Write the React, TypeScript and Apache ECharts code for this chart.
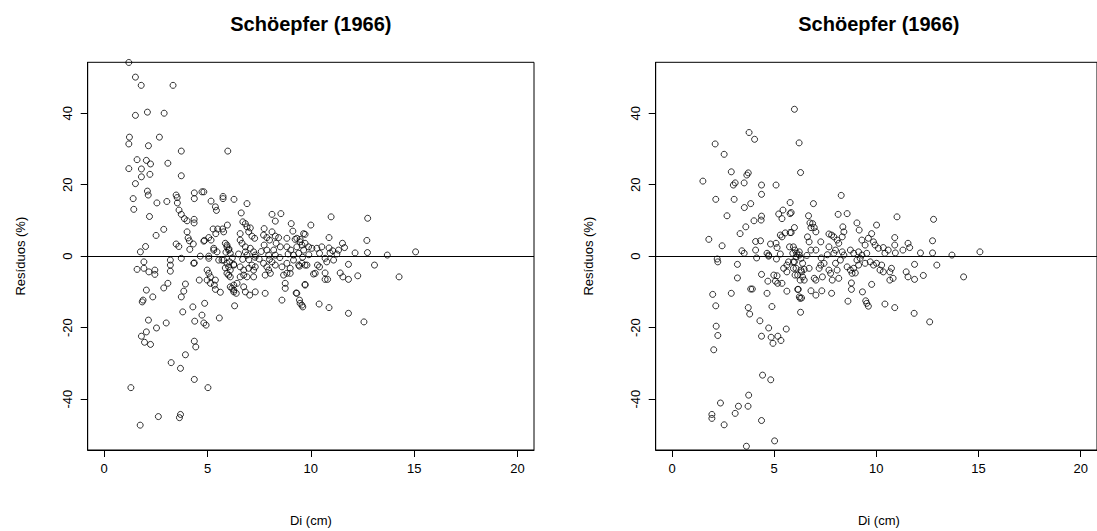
import React, { useEffect, useRef } from "react";
import * as echarts from "echarts";

// Diameter (cm) and residual (%) pairs, first panel
const residuosA: [number, number][] = [
  [1.19, 54.2], [1.51, 50.1], [1.79, 47.8], [3.33, 47.8], [1.51, 39.4], [2.09, 40.3], [2.9, 40.0], [1.22, 33.3],
  [1.19, 31.4], [2.67, 33.3], [2.14, 30.9], [3.73, 29.4], [5.98, 29.4], [1.59, 27.0], [2.04, 26.8], [2.24, 25.8],
  [3.08, 26.0], [1.19, 24.5], [1.8, 24.4], [2.21, 22.9], [1.8, 22.2], [3.73, 22.5], [1.51, 20.3], [2.09, 18.2],
  [2.13, 17.1], [1.4, 16.1], [2.55, 14.9], [3.03, 15.3], [3.48, 17.1], [3.53, 16.4], [3.54, 14.9], [4.36, 17.7],
  [4.36, 16.1], [4.73, 18.0], [4.82, 18.0], [5.17, 15.4], [5.38, 13.8], [5.43, 12.8], [5.75, 16.7], [5.75, 16.1],
  [6.28, 15.9], [1.43, 13.1], [2.19, 11.1], [3.62, 12.9], [3.73, 11.7], [3.88, 10.5], [4.01, 9.9], [4.35, 10.3],
  [4.35, 9.3], [5.27, 7.6], [5.49, 7.6], [5.73, 7.6], [5.96, 8.7], [5.78, 6.8], [5.4, 6.3], [2.51, 5.8],
  [2.88, 7.5], [4.01, 6.8], [4.06, 5.1], [4.12, 4.3], [4.31, 3.4], [4.85, 4.4], [5.06, 5.2], [1.75, 1.2],
  [2.0, 2.7], [3.48, 3.4], [3.61, 2.7], [5.3, 2.2], [5.94, 3.1], [6.04, 2.0], [5.89, 1.1],
  [1.92, -1.6], [1.59, -3.7], [1.92, -3.4], [2.16, -4.4], [2.45, -3.9], [2.45, -5.1], [3.2, -1.1], [3.2, -2.5],
  [3.2, -4.2], [3.73, -0.6], [4.36, -1.9], [5.06, -0.6], [5.54, -1.1], [5.7, -1.1], [6.07, -1.6], [5.86, -3.3],
  [6.27, -2.3], [4.6, -6.7], [4.98, -3.9], [5.06, -4.8], [5.14, -5.8], [4.98, -6.7], [5.38, -6.7], [6.02, -5.3],
  [2.04, -9.5], [1.88, -12.3], [1.84, -12.8], [2.35, -11.4], [2.88, -8.9], [3.08, -7.6], [3.93, -7.8], [3.85, -9.8],
  [3.73, -11.4], [5.38, -9.3], [5.62, -10.1], [6.18, -9.0], [6.27, -10.0], [4.29, -14.2], [4.86, -13.2], [6.31, -13.9],
  [3.8, -15.6], [2.14, -17.9], [3.0, -18.7], [2.53, -20.1], [4.38, -18.2], [4.73, -16.5], [4.82, -18.7], [4.93, -19.3],
  [5.57, -17.3], [2.04, -21.2], [1.8, -22.4], [1.95, -24.1], [2.24, -24.7], [4.36, -23.8], [4.43, -25.4], [3.93, -27.6],
  [3.24, -29.8], [3.69, -31.4], [4.36, -34.5], [1.29, -36.8], [5.02, -36.8], [2.62, -44.9], [3.69, -44.3], [3.64, -45.2],
  [1.74, -47.3],
  [6.91, 14.7], [6.63, 12.1], [8.12, 11.7], [8.55, 11.9], [8.28, 9.8], [9.05, 9.1], [9.13, 7.0], [9.65, 6.3],
  [6.71, 9.6], [6.83, 9.1], [6.91, 8.2], [7.07, 7.9], [6.58, 6.3], [6.99, 6.8], [7.15, 5.6], [7.28, 5.0],
  [7.74, 7.7], [7.71, 5.9], [7.87, 5.2], [8.0, 4.5], [8.12, 6.8], [8.28, 5.6], [8.44, 5.2], [8.32, 3.6],
  [8.52, 2.6], [8.84, 5.0], [8.84, 2.6], [9.24, 4.7], [9.48, 4.7], [9.32, 2.6], [9.57, 3.1], [9.65, 1.7],
  [5.86, 3.6], [5.94, 2.6], [6.02, 1.7], [6.1, 0.8], [6.58, 4.5], [6.67, 3.6], [6.83, 2.6], [7.07, 2.2],
  [7.23, 1.2], [7.31, 0.3], [6.83, 1.2], [6.91, 0.3], [7.74, 3.1], [7.87, 1.7], [7.96, 0.3], [8.2, 1.7],
  [8.28, 0.3], [9.03, 1.7], [9.16, 0.3], [9.41, 0.8], [4.14, 1.9], [4.82, 4.2], [5.17, 4.5], [5.3, 1.7],
  [5.46, 1.2], [4.65, 0.0], [5.06, 0.0],
  [4.33, -2.0], [5.14, -7.6], [5.33, -8.1], [5.78, -1.1], [5.94, -2.0], [6.02, -3.0], [6.1, -3.9], [6.27, -2.5],
  [5.94, -4.8], [6.1, -5.8], [6.1, -8.6], [6.27, -9.5], [6.39, -10.4], [6.27, -8.1], [6.43, -7.6], [6.58, -3.0],
  [6.75, -3.9], [6.99, -3.4], [7.15, -2.5], [7.31, -3.0], [7.23, -3.9], [6.58, -5.8], [6.75, -5.3], [6.91, -5.8],
  [7.23, -5.8], [6.75, -8.6], [6.83, -10.0], [7.04, -10.9], [7.31, -10.0], [7.79, -10.4], [7.71, -2.0], [7.87, -3.0],
  [7.96, -3.9], [8.04, -4.8], [7.79, -5.3], [8.12, -1.6], [8.28, -2.5], [8.6, -3.0], [8.84, -2.0], [9.0, -3.4],
  [8.84, -4.8], [8.68, -5.3], [9.0, -4.8], [9.16, -1.1], [9.41, -2.5], [9.57, -2.0], [9.72, -2.5], [8.76, -7.6],
  [8.76, -9.0], [8.6, -12.3], [9.29, -10.3], [9.45, -12.3], [9.48, -13.2], [9.57, -13.7], [9.72, -8.1],
  [10.0, 8.7], [10.98, 11.0], [12.75, 10.6], [9.72, 6.1], [10.88, 5.2], [12.71, 4.4], [11.53, 3.6], [11.63, 2.4],
  [9.32, 5.0], [9.48, 4.0], [9.72, 3.6], [9.89, 2.6], [10.05, 2.2], [10.29, 2.2], [10.53, 2.6], [10.88, 2.3],
  [11.06, 1.5], [11.34, 1.7], [11.26, 0.6], [12.14, 0.9], [12.74, 1.0], [13.7, 0.3], [15.07, 1.2],
  [9.45, -2.8], [9.81, -2.5], [10.21, -4.8], [10.13, -5.0], [10.32, -2.5], [10.42, -3.0], [10.69, -0.6], [10.77, -1.6],
  [11.1, -1.1], [10.69, -4.7], [10.69, -6.5], [10.81, -6.5], [11.42, -4.7], [11.55, -5.8], [11.82, -6.5], [11.82, -2.3],
  [12.27, -5.5], [13.08, -2.5], [14.27, -5.8], [9.72, -7.9], [9.32, -10.4], [9.61, -14.2], [10.4, -13.4], [10.88, -14.4],
  [11.82, -16.0], [12.57, -18.4], [10.42, 0.8], [10.93, 0.9], [9.6, -0.3], [9.9, 0.4],
  [6.2, -0.5], [6.5, 0.6], [7.0, -1.0], [7.5, -0.8], [7.6, 1.3], [8.5, -0.4], [8.9, 0.6], [8.0, -0.9],
  [7.3, -0.3], [6.7, -0.9],
];

// Diameter (cm) and residual (%) pairs, second panel
const residuosB: [number, number][] = [
  [5.99, 41.1], [3.77, 34.6], [4.04, 32.7], [2.11, 31.4], [6.22, 31.7], [2.55, 28.5], [2.9, 23.6], [3.73, 23.3],
  [3.66, 22.7], [3.53, 20.5], [3.09, 20.5], [3.0, 19.9], [6.29, 23.4], [1.51, 21.0], [4.38, 19.9], [4.38, 17.3],
  [5.09, 19.9], [2.14, 15.9], [3.04, 15.9], [3.85, 14.7], [3.54, 13.6], [5.78, 15.0], [5.43, 12.9], [5.22, 11.8],
  [5.38, 10.5], [5.78, 11.9], [2.69, 11.3], [4.01, 9.9], [4.38, 11.2], [4.36, 10.1], [3.61, 8.2], [3.33, 6.3],
  [5.3, 5.9], [5.54, 6.5], [5.78, 6.6], [5.38, 5.4], [5.99, 8.0], [1.8, 4.7], [2.45, 2.9], [4.09, 4.1],
  [4.33, 4.3], [4.82, 3.4], [5.09, 3.6], [5.14, 2.4], [3.42, 1.5], [3.53, 0.8], [4.09, 1.7], [4.65, 0.8],
  [4.73, 0.3], [5.3, 0.6], [5.94, 2.6], [6.02, 1.7], [6.1, 0.8], [2.21, -0.8],
  [2.24, -1.6], [3.2, -2.3], [3.2, -6.1], [4.14, -0.5], [4.73, 0.0], [5.11, -0.8], [4.38, -5.1], [4.69, -7.0],
  [4.98, -5.3], [5.14, -5.5], [5.06, -7.0], [5.17, -7.6], [5.38, -7.6], [5.62, -2.5], [5.7, -1.6], [5.94, -1.6],
  [5.46, -3.4], [5.62, -4.4], [5.94, -3.4], [6.02, -5.3], [6.27, -6.7], [6.34, -4.4], [5.62, -9.8], [6.18, -9.3],
  [6.27, -11.8], [6.34, -11.7], [6.29, -15.7], [1.99, -10.7], [2.14, -13.9], [2.9, -10.4], [3.85, -9.2], [3.93, -9.2],
  [4.65, -10.4], [3.73, -14.4], [3.8, -16.2], [4.89, -14.1], [4.3, -18.1], [4.73, -20.1], [5.59, -20.4], [2.16, -19.6],
  [2.24, -22.2], [4.38, -22.4], [4.85, -22.7], [4.94, -24.4], [5.18, -22.4], [5.33, -23.6], [2.04, -26.2], [4.43, -33.3],
  [4.83, -34.6], [3.75, -38.9], [2.37, -41.1], [3.25, -42.0], [3.72, -42.0], [3.09, -44.0], [1.95, -44.3], [1.95, -45.4],
  [2.55, -47.2], [4.38, -46.0], [5.02, -51.7], [3.64, -53.2],
  [8.28, 17.0], [5.83, 12.2], [6.92, 14.7], [8.13, 11.7], [8.57, 11.9], [6.68, 11.3], [6.75, 9.3], [6.88, 9.1],
  [6.96, 8.0], [7.04, 6.8], [6.8, 8.0], [5.83, 6.6], [8.36, 8.2], [8.41, 6.8], [8.33, 5.4], [9.05, 9.3],
  [9.16, 7.3], [10.01, 8.7], [11.01, 11.0], [12.8, 10.3], [7.68, 6.2], [7.81, 5.9], [7.92, 5.4], [8.08, 4.5],
  [8.16, 3.6], [6.63, 5.4], [6.71, 4.0], [7.28, 4.0], [7.04, 1.7], [6.8, 1.7], [9.77, 6.3], [9.61, 5.0],
  [9.86, 4.0], [9.94, 3.1], [9.29, 4.5], [9.45, 3.1], [10.9, 5.2], [10.9, 3.1], [11.55, 3.6], [11.63, 2.4],
  [12.75, 4.3], [12.75, 0.9], [12.16, 0.9], [10.1, 2.2], [10.34, 2.4], [10.58, 1.7], [11.3, 1.7], [5.75, 2.6],
  [6.23, 1.2], [7.68, 2.6], [8.0, 1.7], [7.92, 0.8], [8.33, 1.2], [8.41, 0.3], [8.73, 1.7], [8.89, 0.8],
  [9.13, 1.2], [9.29, 0.3], [9.53, 0.8],
  [5.91, 0.8], [6.07, -0.2], [6.23, 0.3], [6.31, -0.6], [5.99, -1.6], [6.39, -2.0], [6.07, -3.4], [6.31, -3.9],
  [6.47, -3.7], [6.15, -5.3], [6.39, -5.8], [6.47, -6.7], [6.15, -9.3], [6.23, -11.4], [6.71, -3.4], [6.96, -6.2],
  [7.04, -6.7], [7.36, -5.8], [7.2, -3.4], [7.28, -2.5], [7.44, -2.0], [7.68, -3.9], [7.76, -4.8], [7.84, -6.7],
  [8.16, -6.2], [8.08, -3.9], [8.0, -2.0], [8.24, -1.1], [6.8, -9.7], [7.04, -10.9], [7.33, -9.7], [7.81, -10.4],
  [8.57, -3.0], [8.73, -3.9], [8.81, -4.8], [8.97, -4.7], [8.89, -3.4], [9.13, -2.5], [9.05, -1.1], [9.21, -0.6],
  [8.78, -7.5], [8.78, -9.3], [8.61, -12.6], [9.32, -10.0], [9.48, -12.5], [9.53, -13.2], [9.61, -14.0], [9.77, -7.9],
  [9.45, -2.0], [9.7, -1.6], [9.86, -2.5], [10.01, -2.0], [10.26, -2.5], [10.18, -3.9], [10.34, -4.4], [10.66, -4.4],
  [10.74, -3.4], [10.82, -6.2], [10.66, -6.7], [10.42, -13.4], [10.9, -14.4], [11.46, -4.4], [11.55, -5.8], [11.87, -6.5],
  [11.87, -2.3], [12.3, -5.4], [11.85, -16.0], [12.61, -18.4], [12.96, -2.5], [10.42, 0.8], [10.93, 0.9], [13.7, 0.3],
  [14.27, -5.8], [15.07, 1.2], [7.3, -0.5], [7.6, 0.4], [6.6, 0.2],
];

const panelTitles = ["Schöepfer (1966)", "Schöepfer (1966)"];
const xTicks = [0, 5, 10, 15, 20];
const yTicks = [-40, -20, 0, 20, 40];
const xName = "Di (cm)";
const yName = "Resíduos (%)";

const FONT = "Liberation Sans, Arial, sans-serif";
const PLOT_W = 446.3;
const PLOT_H = 387.7;
const PLOT_TOP = 62.3;
const PLOT_LEFTS = [87.7, 655.7];

export default function App() {
  const ref = useRef<HTMLDivElement>(null);

  useEffect(() => {
    if (!ref.current) return;
    const chart = echarts.init(ref.current, null, { renderer: "svg" });

    const grids = PLOT_LEFTS.map((left) => ({
      left,
      top: PLOT_TOP,
      width: PLOT_W,
      height: PLOT_H,
      show: true,
      borderColor: "#000",
      borderWidth: 1,
      backgroundColor: "transparent",
    }));

    const xAxes = PLOT_LEFTS.map((_, i) => ({
      type: "value",
      gridIndex: i,
      min: -0.8,
      max: 20.8,
      axisLine: { show: true, onZero: false, lineStyle: { color: "#000", width: 1 } },
      axisTick: { show: true, inside: false, length: 7, customValues: xTicks, lineStyle: { color: "#000" } },
      axisLabel: { customValues: xTicks, margin: 12, color: "#000", fontSize: 13, fontFamily: FONT },
      splitLine: { show: false },
    }));

    const yAxes = PLOT_LEFTS.map((_, i) => ({
      type: "value",
      gridIndex: i,
      min: -54.25,
      max: 54.25,
      axisLine: { show: true, onZero: false, lineStyle: { color: "#000", width: 1 } },
      axisTick: { show: true, inside: false, length: 7, customValues: yTicks, lineStyle: { color: "#000" } },
      axisLabel: { customValues: yTicks, rotate: 90, margin: 14, color: "#000", fontSize: 13, fontFamily: FONT },
      splitLine: { show: false },
    }));

    const panels = [residuosA, residuosB];
    const series = panels.map((data, i) => ({
      type: "scatter",
      xAxisIndex: i,
      yAxisIndex: i,
      data,
      symbol: "circle",
      symbolSize: 6,
      itemStyle: { color: "rgba(0,0,0,0)", borderColor: "#000", borderWidth: 1 },
      markLine: {
        silent: true,
        symbol: ["none", "none"],
        label: { show: false },
        lineStyle: { color: "#000", width: 1, type: "solid" },
        data: [{ yAxis: 0 }],
      },
    }));

    const texts: any[] = [];
    PLOT_LEFTS.forEach((left, i) => {
      const cx = left + PLOT_W / 2;
      texts.push({
        type: "text",
        x: cx,
        y: 24,
        style: { text: panelTitles[i], font: `bold 20px ${FONT}`, fill: "#000", textAlign: "center", textVerticalAlign: "middle" },
      });
      texts.push({
        type: "text",
        x: cx,
        y: 520,
        style: { text: xName, font: `13px ${FONT}`, fill: "#000", textAlign: "center", textVerticalAlign: "middle" },
      });
      texts.push({
        type: "text",
        x: left - 67,
        y: PLOT_TOP + PLOT_H / 2,
        rotation: Math.PI / 2,
        style: { text: yName, font: `13px ${FONT}`, fill: "#000", textAlign: "center", textVerticalAlign: "middle" },
      });
    });

    chart.setOption({
      animation: false,
      backgroundColor: "#fff",
      grid: grids,
      xAxis: xAxes,
      yAxis: yAxes,
      series,
      graphic: texts,
    });

    return () => chart.dispose();
  }, []);

  return (
    <div
      ref={ref}
      style={{ position: "fixed", left: 0, top: 0, width: 1097, height: 531, background: "#fff" }}
    />
  );
}
